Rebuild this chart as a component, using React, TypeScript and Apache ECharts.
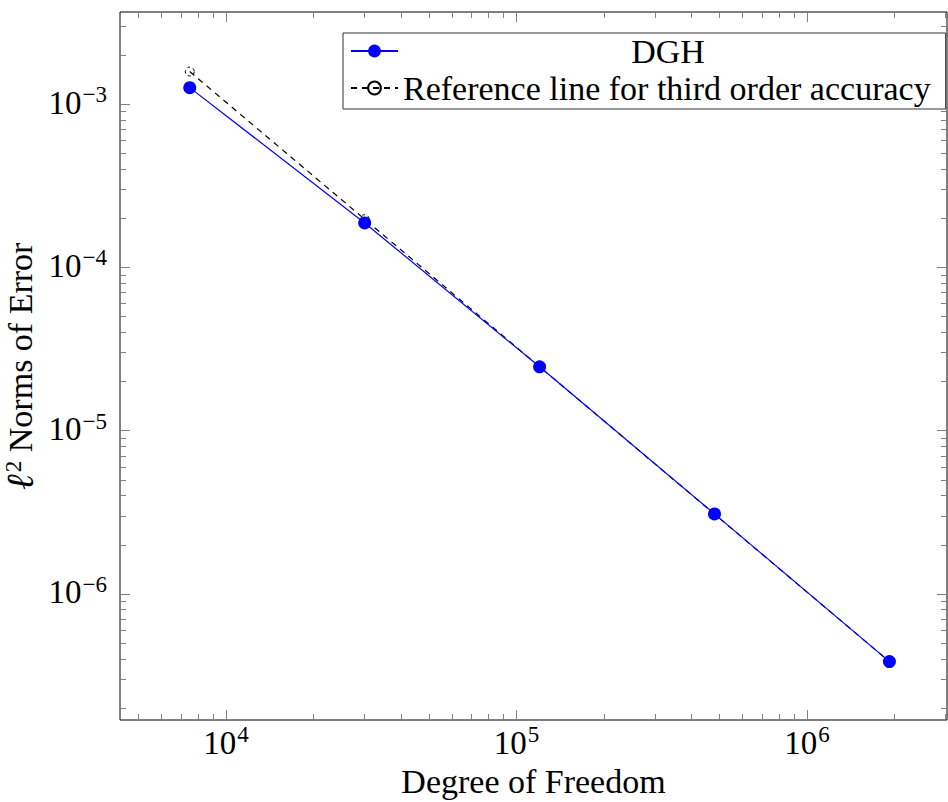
import React, { useEffect, useRef } from 'react';
import * as echarts from 'echarts';

// ---- data ----
const DOF = [7500, 30000, 120000, 480000, 1920000];
const DGH_ERR = [1.26e-3, 1.87e-4, 2.46e-5, 3.09e-6, 3.85e-7];
const REF_ERR = [1.58e-3, 1.97e-4, 2.46e-5, 3.08e-6, 3.85e-7];
const SERIES_NAMES = ['DGH', 'Reference line for third order accuracy'];

// ---- ticks ----
const X_MAJOR = [1e4, 1e5, 1e6];
const X_MINOR = [
  5e3, 6e3, 7e3, 8e3, 9e3,
  2e4, 3e4, 4e4, 5e4, 6e4, 7e4, 8e4, 9e4,
  2e5, 3e5, 4e5, 5e5, 6e5, 7e5, 8e5, 9e5,
  2e6, 3e6,
];
const Y_MAJOR = [1e-6, 1e-5, 1e-4, 1e-3];
const Y_MINOR = [
  2e-7, 3e-7, 4e-7, 5e-7, 6e-7, 7e-7, 8e-7, 9e-7,
  2e-6, 3e-6, 4e-6, 5e-6, 6e-6, 7e-6, 8e-6, 9e-6,
  2e-5, 3e-5, 4e-5, 5e-5, 6e-5, 7e-5, 8e-5, 9e-5,
  2e-4, 3e-4, 4e-4, 5e-4, 6e-4, 7e-4, 8e-4, 9e-4,
  2e-3, 3e-3,
];
const X_RANGE = [4315, 3.03e6];
const Y_RANGE = [1.69e-7, 3.66e-3];

const FONT = '"Liberation Serif", "DejaVu Serif", serif';
const TICK_COLOR = '#808080';

function powLabel(v: number) {
  const e = Math.round(Math.log10(v));
  const s = e < 0 ? '\u2212' + -e : String(e);
  return `{b|10}{e|${s}}`;
}

const labelRich = {
  b: { fontFamily: FONT, fontSize: 33, lineHeight: 30, color: '#000', verticalAlign: 'bottom' },
  e: { fontFamily: FONT, fontSize: 23, lineHeight: 20, color: '#000', verticalAlign: 'bottom', padding: [0, 0, 13, 1] },
};

function xAxis(position: 'bottom' | 'top', major: boolean, extra: any = {}) {
  return {
    type: 'log',
    min: X_RANGE[0],
    max: X_RANGE[1],
    position,
    axisLine: { show: false },
    splitLine: { show: false },
    axisTick: {
      show: true,
      inside: true,
      length: major ? 10 : 6,
      customValues: major ? X_MAJOR : X_MINOR,
      lineStyle: { color: TICK_COLOR, width: 1 },
    },
    axisLabel: { show: false },
    ...extra,
  };
}

function yAxis(position: 'left' | 'right', major: boolean, extra: any = {}) {
  return {
    type: 'log',
    min: Y_RANGE[0],
    max: Y_RANGE[1],
    position,
    axisLine: { show: false },
    splitLine: { show: false },
    axisTick: {
      show: true,
      inside: true,
      length: major ? 10 : 6,
      customValues: major ? Y_MAJOR : Y_MINOR,
      lineStyle: { color: TICK_COLOR, width: 1 },
    },
    axisLabel: { show: false },
    ...extra,
  };
}

const option: any = {
  animation: false,
  backgroundColor: '#fff',
  grid: {
    left: 120,
    right: 1,
    top: 12,
    bottom: 82,
    show: true,
    containLabel: false,
    outerBoundsMode: 'none',
    borderColor: '#000',
    borderWidth: 1,
    backgroundColor: 'transparent',
  },
  xAxis: [
    xAxis('bottom', true, {
      axisLabel: {
        show: true,
        customValues: X_MAJOR,
        formatter: powLabel,
        rich: labelRich,
        margin: 9,
      },
      name: 'Degree of Freedom',
      nameLocation: 'middle',
      nameGap: 44,
      nameMoveOverlap: false,
      nameTextStyle: { fontFamily: FONT, fontSize: 34, color: '#000' },
    }),
    xAxis('bottom', false),
    xAxis('top', true),
    xAxis('top', false),
  ],
  yAxis: [
    yAxis('left', true, {
      axisLabel: {
        show: true,
        customValues: Y_MAJOR,
        formatter: powLabel,
        rich: labelRich,
        margin: 13,
      },
      name: '{l|\u2113}{s|2} Norms of Error',
      nameLocation: 'middle',
      nameRotate: 90,
      nameGap: 81,
      nameMoveOverlap: false,
      nameTextStyle: {
        fontFamily: FONT,
        fontSize: 34,
        color: '#000',
        rich: {
          l: { fontFamily: FONT, fontSize: 38, fontWeight: 'bold', fontStyle: 'italic', color: '#000', verticalAlign: 'bottom' },
          s: { fontFamily: FONT, fontSize: 23, color: '#000', verticalAlign: 'bottom', padding: [0, 0, 14, 1] },
        },
      },
    }),
    yAxis('left', false),
    yAxis('right', true),
    yAxis('right', false),
  ],
  legend: {
    data: SERIES_NAMES,
    orient: 'vertical',
    left: 343,
    top: 33,
    padding: [1, 15, 4, 7],
    itemGap: 3,
    itemWidth: 47,
    itemHeight: 16,
    borderColor: '#333',
    borderWidth: 1,
    borderRadius: 0,
    backgroundColor: '#fff',
    formatter: (n: string) => (n === SERIES_NAMES[0] ? `{c|${n}}` : `{l|${n}}`),
    textStyle: {
      fontFamily: FONT,
      fontSize: 34,
      color: '#000',
      rich: {
        c: { fontFamily: FONT, fontSize: 34, color: '#000', width: 530, align: 'center' },
        l: { fontFamily: FONT, fontSize: 34, color: '#000', width: 530, align: 'left' },
      },
    },
  },
  series: [
    {
      name: SERIES_NAMES[1],
      type: 'line',
      xAxisIndex: 0,
      yAxisIndex: 0,
      z: 2,
      data: DOF.map((x, i) => [x, REF_ERR[i]]),
      symbol: 'circle',
      symbolSize: 9,
      showSymbol: true,
      lineStyle: { color: '#000', width: 1.2, type: [6, 5] },
      itemStyle: { color: 'rgba(0,0,0,0)', borderColor: '#000', borderWidth: 1, borderType: [3, 3] },
    },
    {
      name: SERIES_NAMES[0],
      type: 'line',
      xAxisIndex: 0,
      yAxisIndex: 0,
      z: 3,
      data: DOF.map((x, i) => [x, DGH_ERR[i]]),
      symbol: 'circle',
      symbolSize: 13,
      showSymbol: true,
      lineStyle: { color: '#0000ff', width: 1.2 },
      itemStyle: { color: '#0000ff' },
    },
  ],
};

export default function App() {
  const ref = useRef<HTMLDivElement>(null);
  useEffect(() => {
    const chart = echarts.init(ref.current!, null, { renderer: 'svg' });
    chart.setOption(option);
    return () => chart.dispose();
  }, []);
  return (
    <div
      ref={ref}
      style={{ position: 'absolute', left: 0, top: 0, width: 948, height: 802 }}
    />
  );
}
